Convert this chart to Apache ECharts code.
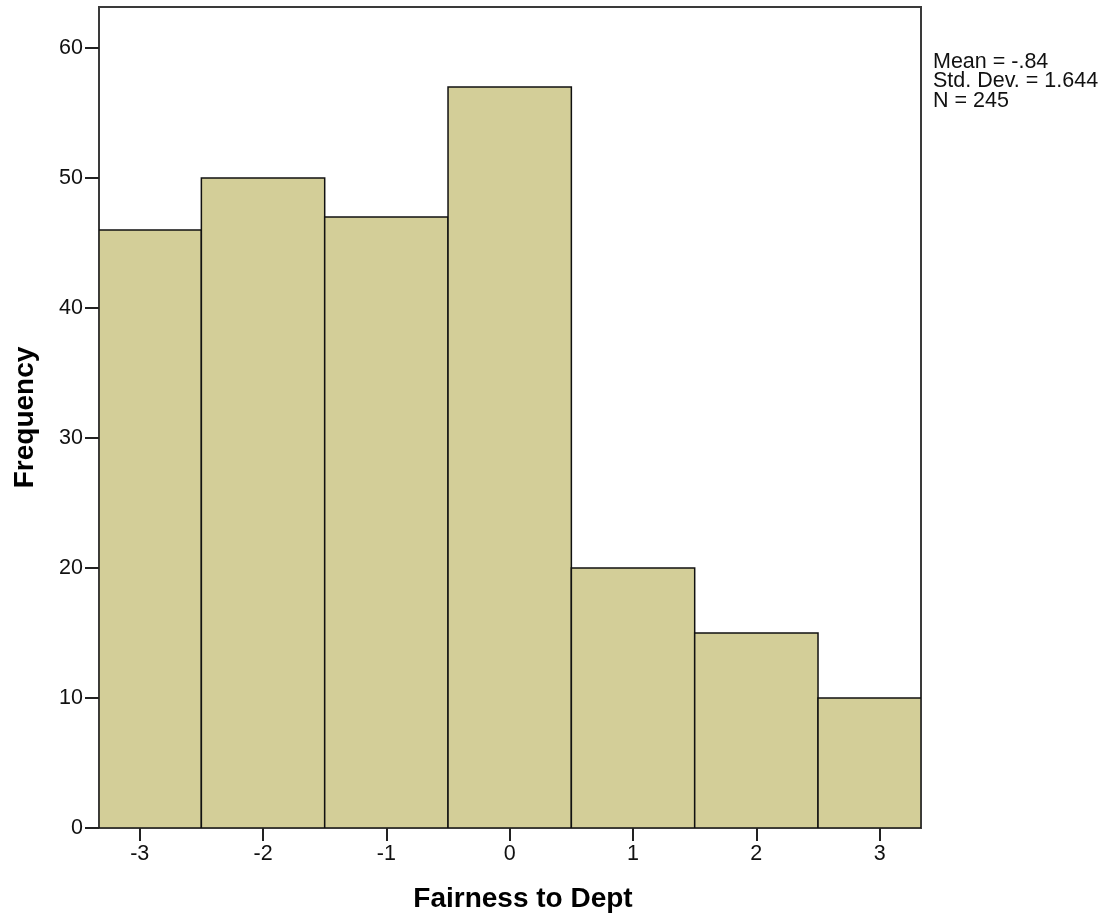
<!DOCTYPE html>
<html><head><meta charset="utf-8">
<script src="https://cdn.jsdelivr.net/npm/echarts@6/dist/echarts.min.js"></script>
<style>html,body{margin:0;padding:0;background:#fff}#c{width:1107px;height:922px}</style>
</head><body><div id="c"></div>
<script>
const binCenters = [-3, -2, -1, 0, 1, 2, 3];
const frequencies = [46, 50, 47, 57, 20, 15, 10];
const xTicks = [-3, -2, -1, 0, 1, 2, 3];
const yTicks = [0, 10, 20, 30, 40, 50, 60];
const statsLines = ['Mean = -.84', 'Std. Dev. = 1.644', 'N = 245'];
const xTitle = 'Fairness to Dept';
const yTitle = 'Frequency';

const font = '"Liberation Sans", Arial, sans-serif';
const chart = echarts.init(document.getElementById('c'));
const data = binCenters.map((c, i) => [c - 0.5, c + 0.5, frequencies[i]]);
chart.setOption({
  animation: false,
  grid: {left: 99, top: 7, right: 186, bottom: 94, show: true, borderColor: '#3a3a3a', borderWidth: 2, backgroundColor: '#fff'},
  xAxis: {
    type: 'value', min: -3.33, max: 3.335,
    axisLine: {show: false, onZero: false},
    splitLine: {show: false},
    axisTick: {show: true, length: 13, lineStyle: {color: '#222', width: 2}, customValues: xTicks},
    axisLabel: {customValues: xTicks, fontFamily: font, fontSize: 21.5, color: '#111', margin: 15}
  },
  yAxis: {
    type: 'value', min: 0, max: 63.15,
    name: yTitle, nameLocation: 'middle', nameGap: 60,
    nameTextStyle: {fontFamily: font, fontSize: 28, fontWeight: 'bold', color: '#000'},
    axisLine: {show: false, onZero: false},
    splitLine: {show: false},
    axisTick: {show: true, length: 14, lineStyle: {color: '#222', width: 2}, customValues: yTicks},
    axisLabel: {customValues: yTicks, fontFamily: font, fontSize: 21.5, color: '#111', margin: 16}
  },
  series: [{
    type: 'custom', clip: true,
    data: data,
    encode: {x: [0, 1], y: 2},
    renderItem: function (params, api) {
      const p0 = api.coord([api.value(0), 0]);
      const p1 = api.coord([api.value(1), api.value(2)]);
      const rect = echarts.graphic.clipRectByRect({
        x: p0[0], y: p1[1], width: p1[0] - p0[0], height: p0[1] - p1[1]
      }, params.coordSys);
      return rect && {type: 'rect', shape: rect, style: {fill: '#D3CE98', stroke: '#111', lineWidth: 1.5}};
    }
  }],
  graphic: [{
    type: 'text', x: 933, y: 52,
    style: {text: statsLines.join('\n'), fontFamily: font, fontSize: 21.5, lineHeight: 19.5, fill: '#111'}
  }, {
    type: 'text', x: 523, y: 899,
    style: {text: xTitle, fontFamily: font, fontSize: 28, fontWeight: 'bold', fill: '#000', align: 'center', verticalAlign: 'middle'}
  }]
});
</script></body></html>
